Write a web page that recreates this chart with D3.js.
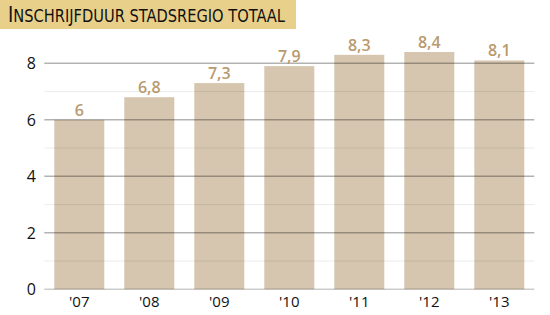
<!DOCTYPE html>
<html>
<head>
<meta charset="utf-8">
<script src="https://cdn.jsdelivr.net/npm/d3@7"></script>
<style>
  body { margin: 0; background: #fff; }
  svg { display: block; }
</style>
</head>
<body>
<div id="app"></div>
<script>
'use strict'

const title = 'Inschrijfduur stadsregio totaal';
const years = ["'07", "'08", "'09", "'10", "'11", "'12", "'13"];
const values = [6, 6.8, 7.3, 7.9, 8.3, 8.4, 8.1];
const majorTicks = [0, 2, 4, 6, 8];
const minorTicks = [1, 3, 5, 7];

let width = 550;
let height = 315;
let svg = (
  d3.select('#app')
    .append('svg')
    .attr('width', width)
    .attr('height', height));

// Title block
svg.append('rect')
  .attr('x', 0).attr('y', 0)
  .attr('width', 296).attr('height', 29)
  .attr('fill', '#e8d08a');
let titleText = (svg.append('text')
  .attr('x', 8).attr('y', 22)
  .attr('textLength', 277)
  .attr('lengthAdjust', 'spacingAndGlyphs')
  .attr('style', 'font-family: "DejaVu Sans Condensed", "Liberation Sans Narrow", sans-serif; font-size: 18px;')
  .attr('fill', '#111'));
titleText.append('tspan')
  .attr('style', 'font-size: 22px;')
  .text(title.slice(0, 1).toUpperCase());
titleText.append('tspan')
  .text(title.slice(1).toUpperCase());

let x = (d3.scaleBand()
  .domain(years)
  .range([44.3, 534.3])
  .paddingInner(2 / 7)
  .paddingOuter(1 / 7));

let y = (d3.scaleLinear()
  .domain([0, 8])
  .range([289.3, 63.3]));

// Bars
(svg.selectAll('rect.bar')
    .data(values)
  .enter()
    .append('rect')
      .attr('class', 'bar')
      .attr('x', (d, i) => x(years[i]))
      .attr('width', x.bandwidth())
      .attr('y', (d) => y(d))
      .attr('height', (d) => y(0) - y(d))
      .attr('fill', '#d6c6af'));

// Grid lines, drawn over the bars
(svg.selectAll('line.minor')
    .data(minorTicks)
  .enter()
    .append('line')
      .attr('x1', 44.3).attr('x2', 534.3)
      .attr('y1', (d) => y(d)).attr('y2', (d) => y(d))
      .attr('stroke', '#000')
      .attr('stroke-opacity', 0.08)
      .attr('stroke-width', 1));

(svg.selectAll('line.major')
    .data(majorTicks)
  .enter()
    .append('line')
      .attr('x1', 44.3).attr('x2', 534.3)
      .attr('y1', (d) => y(d)).attr('y2', (d) => y(d))
      .attr('stroke', '#000')
      .attr('stroke-opacity', (d) => d == 0 ? 0.2 : 0.3)
      .attr('stroke-width', 1.5));

// Y tick labels
(svg.selectAll('text.ytick')
    .data(majorTicks)
  .enter()
    .append('text')
      .attr('text-anchor', 'end')
      .attr('x', 36)
      .attr('y', (d) => y(d) + 6)
      .attr('style', 'font-family: "Open Sans", sans-serif; font-size: 16px;')
      .attr('fill', '#111')
      .text((d) => d));

// X tick labels
(svg.selectAll('text.xtick')
    .data(years)
  .enter()
    .append('text')
      .attr('text-anchor', 'middle')
      .attr('x', (d) => x(d) + x.bandwidth() / 2)
      .attr('y', 307)
      .attr('style', 'font-family: "Open Sans", sans-serif; font-size: 15px;')
      .attr('fill', '#111')
      .text((d) => d));

// Value labels
(svg.selectAll('text.value')
    .data(values)
  .enter()
    .append('text')
      .attr('text-anchor', 'middle')
      .attr('x', (d, i) => x(years[i]) + x.bandwidth() / 2)
      .attr('y', (d) => y(d) - 4)
      .attr('style', 'font-family: "Open Sans", sans-serif; font-size: 16px; font-weight: 600;')
      .attr('fill', '#b99a6f')
      .text((d) => String(d).replace('.', ',')));
</script>
</body>
</html>
